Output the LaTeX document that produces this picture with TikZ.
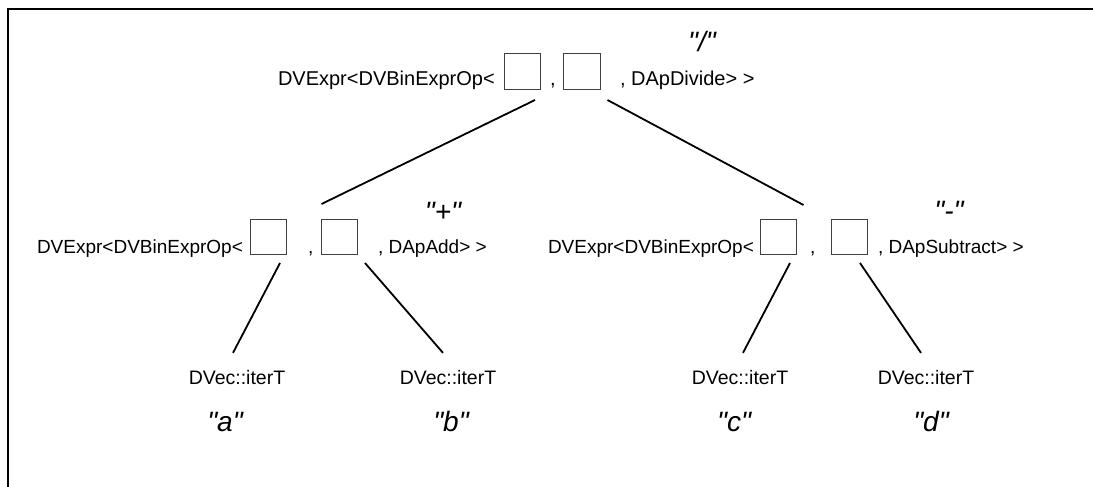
\documentclass[tikz,border=0pt]{standalone}
\usepackage{fontspec}
\setmainfont[Ligatures=TeXOff]{Liberation Sans}
\begin{document}
\begin{tikzpicture}[x=1pt,y=-1pt,
  every node/.style={inner sep=0pt,outer sep=0pt},
  typetext/.style={anchor=base west,font=\fontsize{19}{23}\selectfont},
  toptext/.style={anchor=base west,font=\fontsize{20}{24}\selectfont},
  leaftext/.style={anchor=base,font=\fontsize{19.5}{23}\selectfont},
  oplabel/.style={anchor=base,font=\fontsize{28}{32}\selectfont\itshape},
  slot/.style={draw=black!75,line width=0.7pt,minimum width=36pt,minimum height=35pt},
  edge/.style={line width=1.8pt},
  frame/.style={line width=2.6pt}]
\useasboundingbox (0,0) rectangle (1093,487);

% open frame: top and left border
\coordinate (fl) at (8,487);
\coordinate (fc) at (8,9);
\coordinate (fr) at (1093,9);
\draw[frame] (fl) -- (fc) -- (fr);

% root: DVExpr<DVBinExprOp<  [ ] , [ ] , DApDivide> >
\node[toptext] (rtxt) at (278,85) {DVExpr<DVBinExprOp<};
\node[slot,minimum height=36pt] (t1) at (522,71) {};
\node[toptext] (tc1) at (550,85) {,};
\node[slot,minimum height=36pt,minimum width=37pt] (t2) at (582,71) {};
\node[toptext] (ttail) at (620,85) {, DApDivide> >};
\node[oplabel] (tdiv) at (702,52) {"/"};

% left operand: DApAdd
\node[typetext] (ltxt) at (37,253) {DVExpr<DVBinExprOp<};
\node[slot] (l1) at (268,236.5) {};
\node[typetext] (lc1) at (308,253) {,};
\node[slot] (l2) at (339.5,236.5) {};
\node[typetext] (ltail) at (378,253) {, DApAdd> >};
\node[oplabel] (ladd) at (443,221) {"+"};

% right operand: DApSubtract
\node[typetext] (rtxt2) at (548,253) {DVExpr<DVBinExprOp<};
\node[slot] (r1) at (778.5,236.5) {};
\node[typetext] (rc1) at (810,253) {,};
\node[slot] (r2) at (849,236.5) {};
\node[typetext] (rtail) at (878,253) {, DApSubtract> >};
\node[oplabel] (rsub) at (949,220) {"-"};

% leaves
\node[leaftext] (va) at (237,384) {DVec::iterT};
\node[leaftext] (vb) at (448,384) {DVec::iterT};
\node[leaftext] (vc) at (740,384) {DVec::iterT};
\node[leaftext] (vd) at (926,384) {DVec::iterT};
\node[oplabel] (qa) at (225,431) {"a"};
\node[oplabel] (qb) at (451,431) {"b"};
\node[oplabel] (qc) at (734,431) {"c"};
\node[oplabel] (qd) at (931,431) {"d"};

% tree edges
\draw[edge] ([shift={(-5,11)}]t1.south east) -- ([shift={(0,-15)}]l2.north west);
\draw[edge] ([shift={(7,11)}]t2.south east) -- ([shift={(7,-14)}]r1.north east);
\draw[edge] ([shift={(12,9)}]l1.south) -- ([shift={(-4,-17)}]va.north);
\draw[edge] ([shift={(25.5,9)}]l2.south) -- ([shift={(-5,-17)}]vb.north);
\draw[edge] ([shift={(11.5,9)}]r1.south) -- ([shift={(3,-17)}]vc.north);
\draw[edge] ([shift={(11,9)}]r2.south) -- ([shift={(-5,-17)}]vd.north);
\end{tikzpicture}
\end{document}
